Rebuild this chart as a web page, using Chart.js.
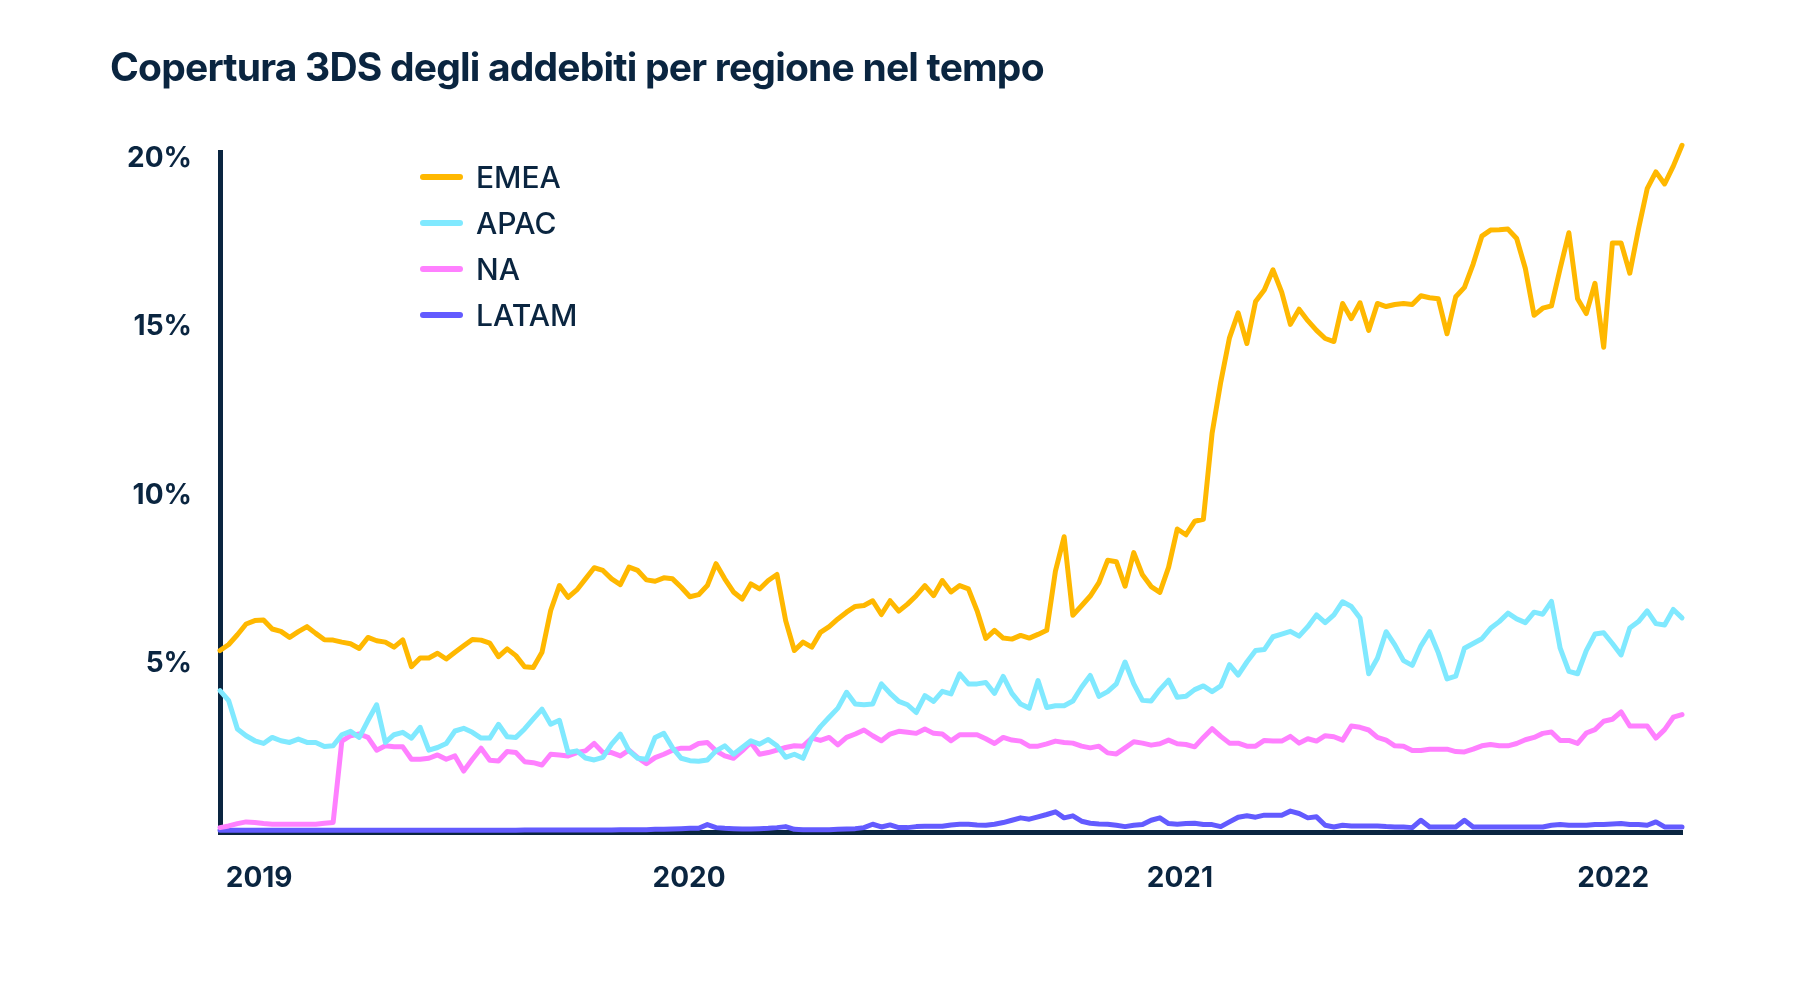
<!DOCTYPE html>
<html lang="it">
<head>
<meta charset="utf-8">
<title>Copertura 3DS degli addebiti per regione nel tempo</title>
<script src="https://cdn.jsdelivr.net/npm/chart.js@4.4.1/dist/chart.umd.min.js"></script>
<style>
  html, body { margin: 0; padding: 0; background: #fff; }
  #wrap { position: relative; width: 1800px; height: 988px; font-family: Inter, 'Noto Sans', sans-serif; color: #0a2540; }
  #grafico { position: absolute; left: 0; top: 0; }
  h1 { position: absolute; left: 110px; top: 47px; margin: 0; font-size: 39px; line-height: 39px; font-weight: 700; letter-spacing: -0.8px; white-space: nowrap; }
  #legenda { position: absolute; left: 420px; top: 154px; margin: 0; padding: 0; list-style: none; }
  #legenda li { display: flex; align-items: center; height: 46px; font-size: 30px; line-height: 46px; font-weight: 500; }
  #legenda li span { display: inline-block; width: 43px; height: 6px; border-radius: 3px; margin-right: 13px; }
</style>
</head>
<body>
<div id="wrap">
  <canvas id="grafico" width="1800" height="988"></canvas>
  <h1>Copertura 3DS degli addebiti per regione nel tempo</h1>
  <ul id="legenda"></ul>
</div>
<script>
/* Copertura 3DS settimanale per regione (%) */
const regioni = ['EMEA', 'APAC', 'NA', 'LATAM'];
const colori  = ['#ffb800', '#80e9ff', '#ff80ff', '#635bff'];

const anni    = ['2019', '2020', '2021', '2022'];
const posAnni = [4.5, 53.9, 110.3, 160.1];   // posizione in settimane dall'inizio
const tickY   = [0, 5, 10, 15, 20];

const emea = [
  5.39, 5.57, 5.86, 6.18, 6.28, 6.30, 6.03, 5.96, 5.78, 5.95,
  6.10, 5.90, 5.71, 5.70, 5.64, 5.59, 5.45, 5.78, 5.68, 5.64,
  5.49, 5.71, 4.91, 5.17, 5.17, 5.31, 5.14, 5.34, 5.53, 5.72,
  5.70, 5.61, 5.21, 5.44, 5.24, 4.91, 4.89, 5.34, 6.58, 7.32,
  6.97, 7.19, 7.52, 7.85, 7.77, 7.52, 7.35, 7.87, 7.77, 7.49,
  7.45, 7.55, 7.52, 7.27, 6.99, 7.05, 7.32, 7.97, 7.52, 7.13,
  6.92, 7.37, 7.22, 7.47, 7.65, 6.28, 5.39, 5.64, 5.49, 5.93,
  6.10, 6.33, 6.53, 6.70, 6.73, 6.87, 6.46, 6.87, 6.56, 6.77,
  7.02, 7.32, 7.02, 7.47, 7.13, 7.32, 7.22, 6.57, 5.75, 5.99,
  5.76, 5.73, 5.84, 5.76, 5.87, 5.99, 7.75, 8.77, 6.44, 6.72,
  7.01, 7.41, 8.07, 8.03, 7.30, 8.30, 7.64, 7.29, 7.12, 7.86,
  9.00, 8.83, 9.23, 9.29, 11.84, 13.37, 14.68, 15.42, 14.51, 15.76,
  16.10, 16.70, 16.04, 15.08, 15.53, 15.19, 14.90, 14.66, 14.57, 15.70,
  15.25, 15.72, 14.90, 15.70, 15.61, 15.67, 15.70, 15.67, 15.93, 15.87,
  15.84, 14.80, 15.90, 16.18, 16.87, 17.70, 17.88, 17.89, 17.91, 17.63,
  16.74, 15.35, 15.56, 15.63, 16.74, 17.80, 15.84, 15.40, 16.30, 14.40,
  17.50, 17.50, 16.60, 17.91, 19.11, 19.61, 19.25, 19.78, 20.40
];

const apac = [
  4.20, 3.90, 3.06, 2.86, 2.71, 2.63, 2.81, 2.71, 2.66, 2.76,
  2.66, 2.66, 2.54, 2.56, 2.89, 2.99, 2.81, 3.31, 3.78, 2.66,
  2.89, 2.96, 2.79, 3.11, 2.43, 2.51, 2.63, 3.00, 3.08, 2.96,
  2.79, 2.79, 3.20, 2.83, 2.81, 3.06, 3.36, 3.65, 3.20, 3.32,
  2.36, 2.41, 2.20, 2.14, 2.22, 2.61, 2.91, 2.41, 2.19, 2.16,
  2.81, 2.93, 2.50, 2.19, 2.12, 2.10, 2.14, 2.41, 2.56, 2.31,
  2.51, 2.71, 2.61, 2.75, 2.56, 2.22, 2.31, 2.19, 2.79, 3.13,
  3.41, 3.68, 4.15, 3.80, 3.78, 3.80, 4.40, 4.12, 3.88, 3.78,
  3.55, 4.05, 3.88, 4.18, 4.10, 4.70, 4.40, 4.40, 4.44, 4.12,
  4.62, 4.12, 3.80, 3.68, 4.50, 3.70, 3.75, 3.75, 3.89, 4.30,
  4.65, 4.03, 4.17, 4.40, 5.05, 4.40, 3.91, 3.89, 4.23, 4.51,
  4.00, 4.03, 4.23, 4.34, 4.17, 4.34, 4.97, 4.66, 5.05, 5.39,
  5.42, 5.80, 5.88, 5.96, 5.82, 6.10, 6.45, 6.22, 6.45, 6.84,
  6.70, 6.36, 4.70, 5.16, 5.95, 5.56, 5.09, 4.95, 5.53, 5.95,
  5.32, 4.55, 4.63, 5.46, 5.60, 5.74, 6.05, 6.25, 6.50, 6.33,
  6.22, 6.53, 6.47, 6.85, 5.46, 4.77, 4.70, 5.39, 5.88, 5.92,
  5.60, 5.26, 6.06, 6.25, 6.57, 6.19, 6.15, 6.61, 6.36
];

const na = [
  0.13, 0.18, 0.25, 0.30, 0.28, 0.25, 0.23, 0.23, 0.23, 0.23,
  0.23, 0.23, 0.26, 0.28, 2.70, 2.86, 2.91, 2.81, 2.43, 2.56,
  2.53, 2.53, 2.16, 2.16, 2.19, 2.29, 2.16, 2.26, 1.81, 2.16,
  2.49, 2.13, 2.11, 2.39, 2.36, 2.09, 2.06, 1.99, 2.31, 2.29,
  2.26, 2.36, 2.41, 2.63, 2.36, 2.36, 2.26, 2.43, 2.21, 2.03,
  2.21, 2.31, 2.43, 2.49, 2.49, 2.63, 2.66, 2.41, 2.26, 2.19,
  2.41, 2.66, 2.31, 2.36, 2.43, 2.51, 2.56, 2.55, 2.79, 2.72,
  2.81, 2.59, 2.81, 2.91, 3.03, 2.86, 2.71, 2.91, 2.99, 2.96,
  2.93, 3.06, 2.93, 2.91, 2.71, 2.89, 2.89, 2.89, 2.77, 2.63,
  2.81, 2.73, 2.70, 2.55, 2.55, 2.62, 2.70, 2.66, 2.64, 2.55,
  2.50, 2.55, 2.35, 2.32, 2.50, 2.68, 2.64, 2.58, 2.62, 2.73,
  2.62, 2.60, 2.53, 2.81, 3.07, 2.84, 2.64, 2.64, 2.55, 2.55,
  2.72, 2.70, 2.70, 2.84, 2.64, 2.77, 2.70, 2.86, 2.83, 2.73,
  3.15, 3.11, 3.03, 2.81, 2.73, 2.56, 2.55, 2.42, 2.42, 2.46,
  2.46, 2.46, 2.39, 2.38, 2.46, 2.56, 2.60, 2.56, 2.56, 2.63,
  2.74, 2.81, 2.93, 2.97, 2.72, 2.72, 2.63, 2.94, 3.04, 3.29,
  3.35, 3.57, 3.15, 3.15, 3.15, 2.79, 3.04, 3.41, 3.49
];

const latam = [
  0.05, 0.05, 0.05, 0.05, 0.05, 0.05, 0.05, 0.05, 0.05, 0.05,
  0.05, 0.05, 0.05, 0.05, 0.05, 0.05, 0.05, 0.05, 0.05, 0.05,
  0.05, 0.05, 0.05, 0.05, 0.05, 0.05, 0.05, 0.05, 0.05, 0.05,
  0.05, 0.05, 0.05, 0.05, 0.05, 0.06, 0.06, 0.06, 0.06, 0.06,
  0.06, 0.06, 0.06, 0.06, 0.06, 0.06, 0.07, 0.07, 0.07, 0.07,
  0.08, 0.08, 0.09, 0.10, 0.11, 0.11, 0.22, 0.13, 0.11, 0.10,
  0.09, 0.09, 0.10, 0.11, 0.13, 0.16, 0.08, 0.07, 0.07, 0.07,
  0.07, 0.08, 0.09, 0.10, 0.13, 0.23, 0.15, 0.21, 0.13, 0.13,
  0.16, 0.17, 0.17, 0.17, 0.21, 0.23, 0.23, 0.21, 0.20, 0.23,
  0.28, 0.35, 0.42, 0.38, 0.45, 0.52, 0.60, 0.42, 0.48, 0.32,
  0.26, 0.24, 0.23, 0.20, 0.16, 0.20, 0.22, 0.35, 0.42, 0.25,
  0.23, 0.25, 0.26, 0.22, 0.22, 0.16, 0.30, 0.44, 0.48, 0.44,
  0.50, 0.50, 0.50, 0.62, 0.55, 0.42, 0.45, 0.20, 0.15, 0.20,
  0.18, 0.18, 0.18, 0.18, 0.16, 0.15, 0.15, 0.13, 0.35, 0.15,
  0.15, 0.15, 0.15, 0.35, 0.15, 0.15, 0.15, 0.15, 0.15, 0.15,
  0.15, 0.15, 0.15, 0.20, 0.22, 0.20, 0.20, 0.20, 0.22, 0.22,
  0.24, 0.25, 0.22, 0.22, 0.20, 0.30, 0.15, 0.15, 0.15
];

const serieValori = [emea, apac, na, latam];
const blu = '#0a2540';

function serie (nome, valori, colore) {
  return {
    label: nome,
    data: valori.map((v, i) => ({ x: i, y: v })),
    borderColor: colore,
    backgroundColor: colore,
    borderWidth: 5,
    pointRadius: 0,
    tension: 0,
    borderJoinStyle: 'round',
    borderCapStyle: 'round',
    clip: false
  };
}

// legenda in HTML
const ul = document.getElementById('legenda');
regioni.forEach((r, k) => {
  const li = document.createElement('li');
  li.innerHTML = '<span style="background:' + colori[k] + '"></span>' + r;
  ul.appendChild(li);
});

new Chart(document.getElementById('grafico'), {
  type: 'line',
  data: { datasets: regioni.map((r, k) => serie(r, serieValori[k], colori[k])) },
  options: {
    responsive: false,
    animation: false,
    layout: { padding: { top: 152, right: 118, left: 0, bottom: 0 } },
    plugins: { legend: { display: false }, tooltip: { enabled: false } },
    scales: {
      x: {
        type: 'linear',
        min: 0,
        max: emea.length - 1,
        z: 1,
        grid: { display: false, drawTicks: false },
        border: { color: blu, width: 5 },
        afterBuildTicks: s => { s.ticks = posAnni.map(v => ({ value: v })); },
        afterFit: s => { s.height = 156; },
        ticks: {
          autoSkip: false,
          maxRotation: 0,
          padding: 30,
          color: blu,
          font: { family: 'Inter', size: 28, weight: '700' },
          callback: (v, i) => anni[i]
        }
      },
      y: {
        min: 0,
        max: 20.2,
        z: 1,
        grid: { display: false, drawTicks: false },
        border: { color: blu, width: 5 },
        afterBuildTicks: s => { s.ticks = tickY.map(v => ({ value: v })); },
        afterFit: s => { s.width = 220; },
        ticks: {
          padding: 28,
          color: blu,
          font: { family: 'Inter', size: 28, weight: '700' },
          callback: v => v === 0 ? '' : v + '%'
        }
      }
    }
  }
});
</script>
</body>
</html>
